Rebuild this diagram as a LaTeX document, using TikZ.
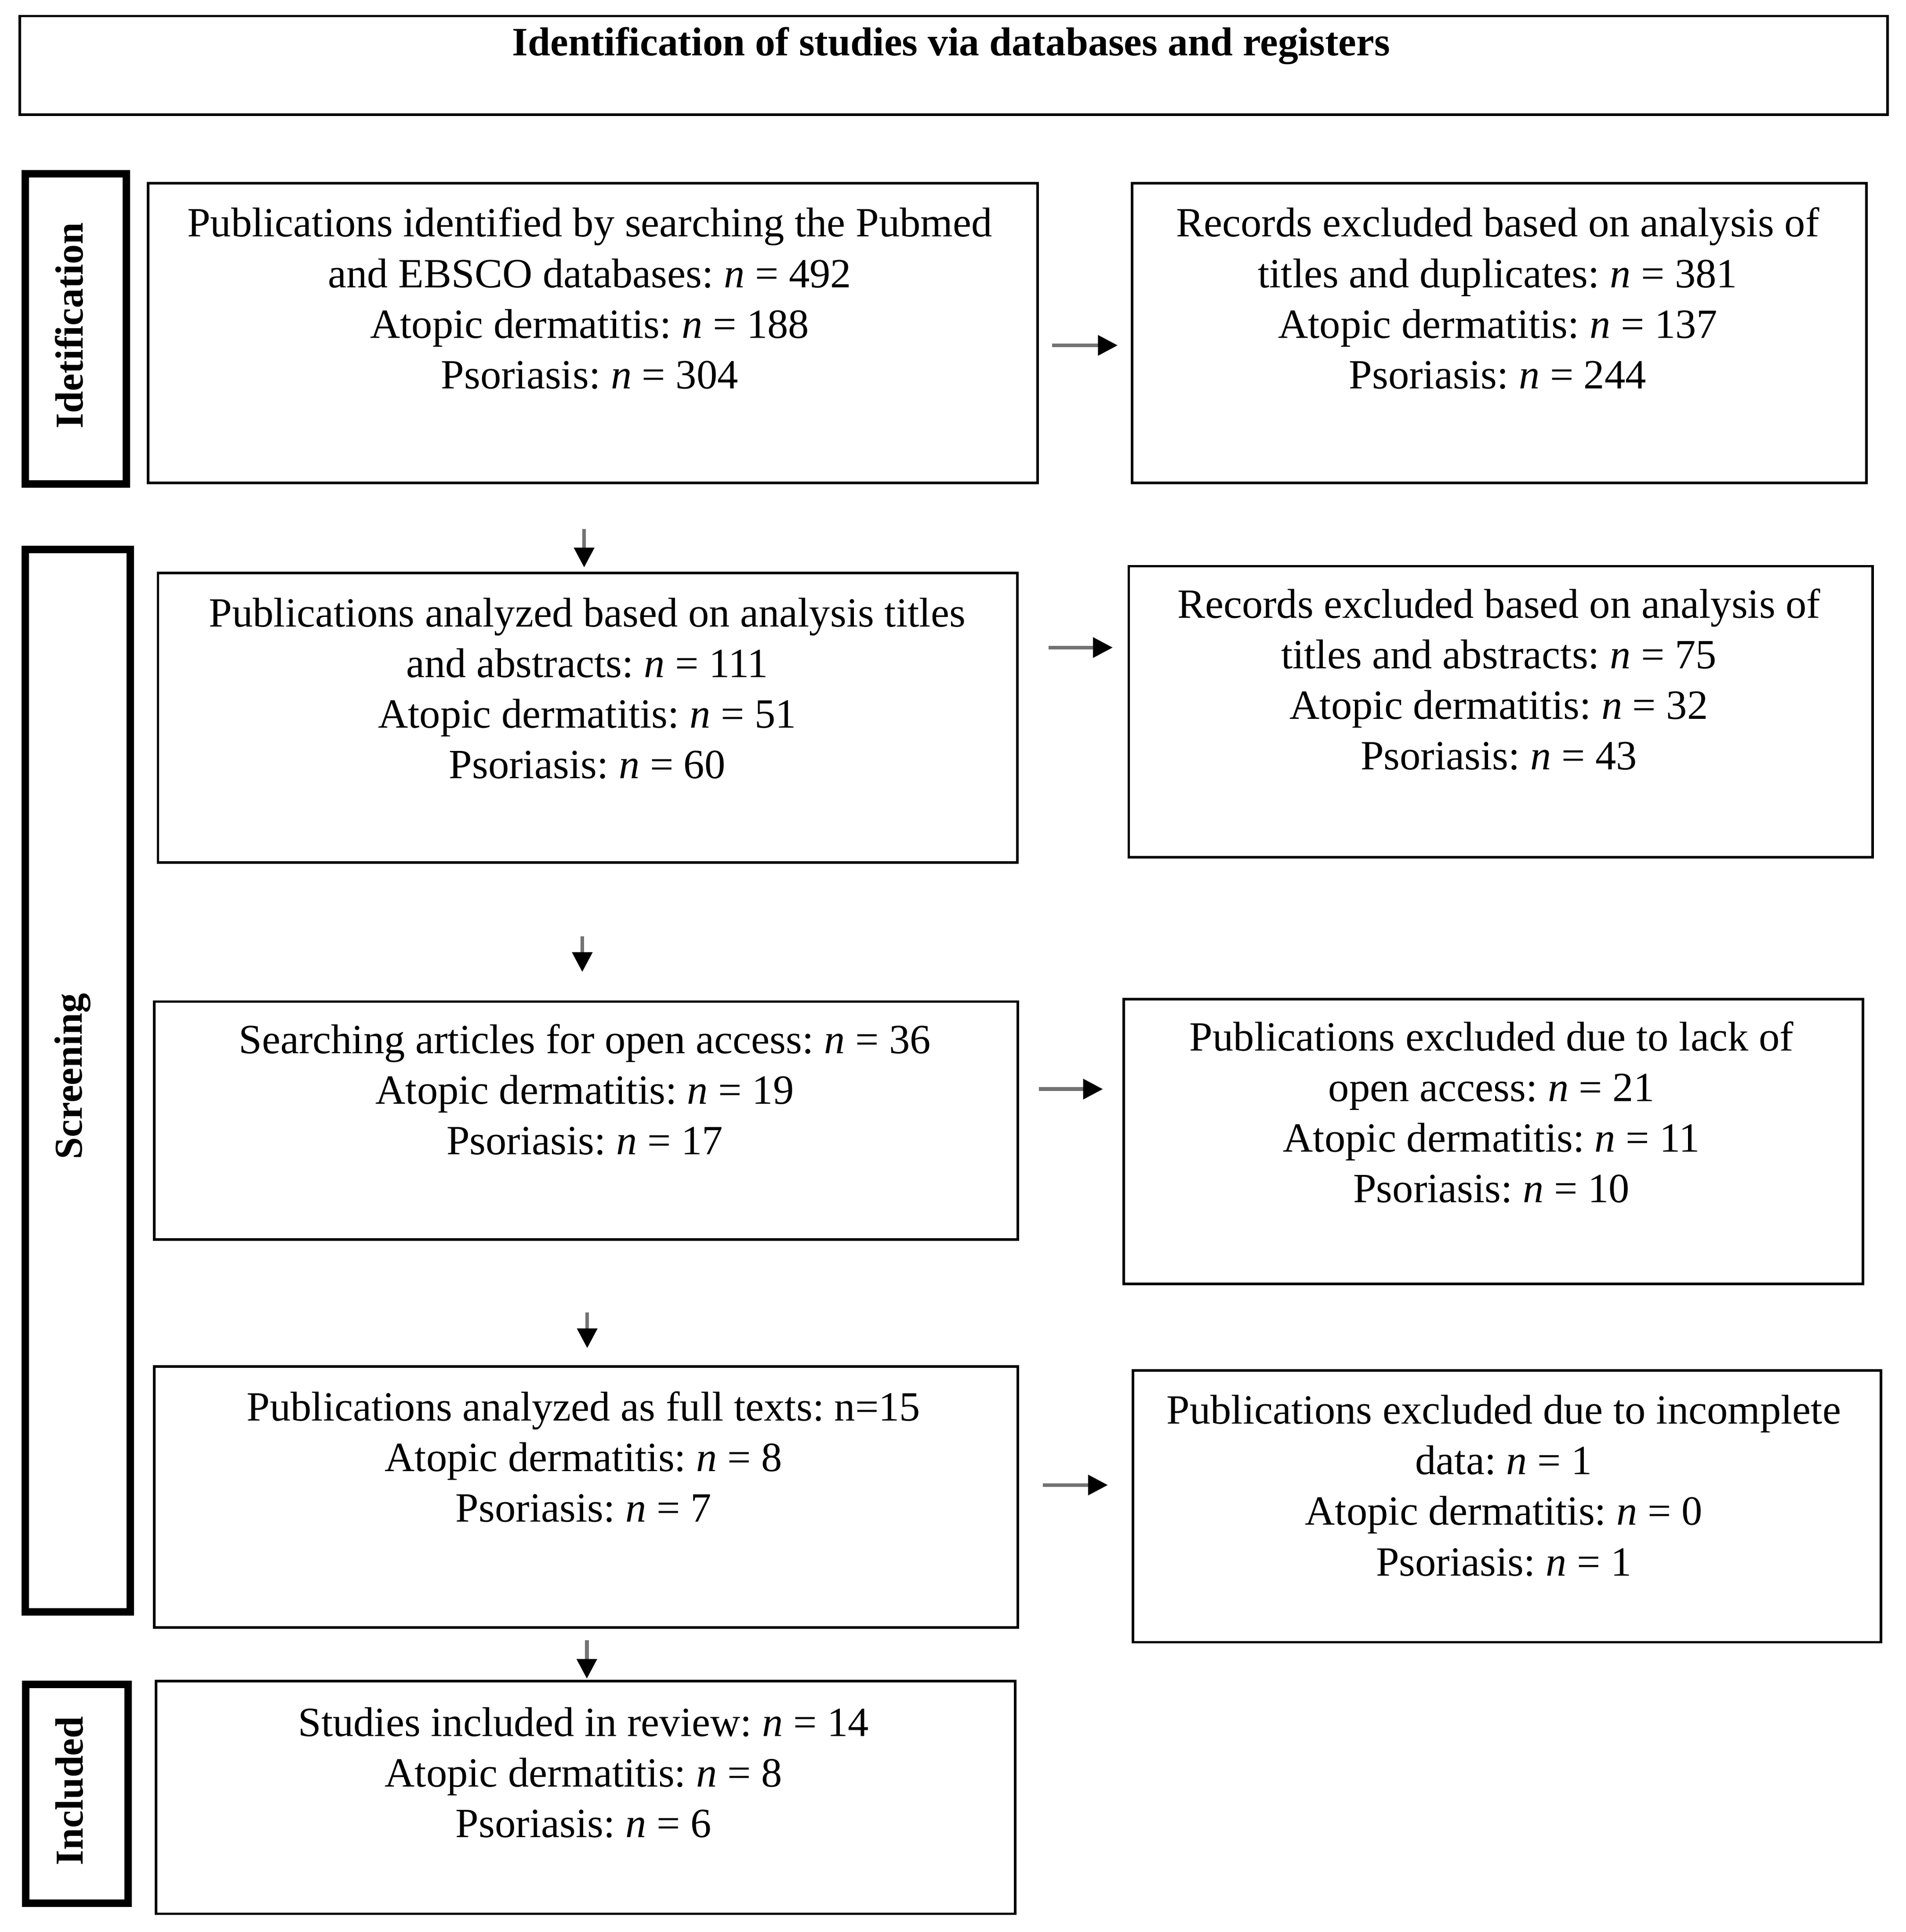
\documentclass[tikz,border=0pt]{standalone}
\usepackage{fontspec}
\setmainfont{Liberation Serif}
\usetikzlibrary{arrows.meta,calc}
\frenchspacing
\begin{document}
\begin{tikzpicture}[x=1pt,y=-1pt,
  box/.style={draw=black, line width=2pt, rectangle, inner sep=0pt, anchor=north west},
  stagebox/.style={draw=black, line width=6pt, rectangle, inner sep=0pt, anchor=north west},
  txt/.style={inner sep=0pt, align=center, font=\fontsize{33.7}{41}\selectfont, anchor=base},
  titletxt/.style={inner sep=0pt, font=\bfseries\fontsize{32.7}{38}\selectfont, anchor=base},
  stagetxt/.style={inner sep=0pt, font=\bfseries\fontsize{32}{38}\selectfont, rotate=90, anchor=base},
  arr/.style={draw=black!55, line width=3pt, -{Triangle[length=16pt,width=16pt,color=black]}},
]
\useasboundingbox (0,0) rectangle (1545,1566.4);

% title
\node[box, minimum width=1514pt, minimum height=80pt] (T) at (15,12) {};
\node[titletxt] (Tt) at (771,45) {Identification of studies via databases and registers};

% stage boxes
\node[stagebox, minimum width=82pt, minimum height=251.5pt] (S1) at (17.4,138) {};
\node[stagebox, minimum width=85pt, minimum height=861.6pt] (S2) at (17.5,442.4) {};
\node[stagebox, minimum width=83pt, minimum height=177.3pt] (S3) at (17.7,1362.7) {};
\node[stagetxt] (S1t) at (67,264) {Idetification};
\node[stagetxt] (S2t) at (66.5,872.5) {Screening};
\node[stagetxt] (S3t) at (67,1452) {Included};

% main boxes
\node[box, minimum width=721pt, minimum height=243pt] (B1) at (119,147.5) {};
\node[box, minimum width=595.4pt, minimum height=243pt] (R1) at (916.6,147.5) {};
\node[box, minimum width=696.7pt, minimum height=234.8pt] (B2) at (127,463.6) {};
\node[box, minimum width=603pt, minimum height=236pt] (R2) at (914,458) {};
\node[box, minimum width=700pt, minimum height=193pt] (B3) at (124,811) {};
\node[box, minimum width=599pt, minimum height=231pt] (R3) at (910,809) {};
\node[box, minimum width=700pt, minimum height=211.5pt] (B4) at (124,1107) {};
\node[box, minimum width=606.2pt, minimum height=220.4pt] (R4) at (917.4,1110) {};
\node[box, minimum width=696.5pt, minimum height=188.6pt] (B5) at (125.5,1362) {};

% texts (anchor = baseline of the last line)
\node[txt] (B1t) at (478,315) {Publications identified by searching the Pubmed\\and EBSCO databases: \textit{n} = 492\\Atopic dermatitis: \textit{n} = 188\\Psoriasis: \textit{n} = 304};
\node[txt] (R1t) at (1214,315) {Records excluded based on analysis of\\titles and duplicates: \textit{n} = 381\\Atopic dermatitis: \textit{n} = 137\\Psoriasis: \textit{n} = 244};
\node[txt] (B2t) at (476,631) {Publications analyzed based on analysis titles\\and abstracts: \textit{n} = 111\\Atopic dermatitis: \textit{n} = 51\\Psoriasis: \textit{n} = 60};
\node[txt] (R2t) at (1215,624) {Records excluded based on analysis of\\titles and abstracts: \textit{n} = 75\\Atopic dermatitis: \textit{n} = 32\\Psoriasis: \textit{n} = 43};
\node[txt] (B3t) at (474,936) {Searching articles for open access: \textit{n} = 36\\Atopic dermatitis: \textit{n} = 19\\Psoriasis: \textit{n} = 17};
\node[txt] (R3t) at (1209,975) {Publications excluded due to lack of\\open access: \textit{n} = 21\\Atopic dermatitis: \textit{n} = 11\\Psoriasis: \textit{n} = 10};
\node[txt] (B4t) at (473,1234) {Publications analyzed as full texts: n=15\\Atopic dermatitis: \textit{n} = 8\\Psoriasis: \textit{n} = 7};
\node[txt] (R4t) at (1219,1277.5) {Publications excluded due to incomplete\\data: \textit{n} = 1\\Atopic dermatitis: \textit{n} = 0\\Psoriasis: \textit{n} = 1};
\node[txt] (B5t) at (473,1489.5) {Studies included in review: \textit{n} = 14\\Atopic dermatitis: \textit{n} = 8\\Psoriasis: \textit{n} = 6};

% horizontal arrows
\draw[arr] ($(B1.east)+(11,10)$) -- ($(R1.west)+(-10.6,10)$);
\draw[arr] ($(B2.east)+(24.3,-57)$) -- ($(R2.west)+(-12,-52)$);
\draw[arr] ($(B3.east)+(16,-25.5)$) -- ($(R3.west)+(-16,-42.5)$);
\draw[arr] ($(B4.east)+(19.5,-9.75)$) -- ($(R4.west)+(-19.4,-17.2)$);

% vertical arrows
\coordinate (v1) at ($(B1.south)+(-7,36.5)$);
\coordinate (v2) at ($(B2.south)+(-4.35,58.6)$);
\coordinate (v3) at ($(B3.south)+(1,58)$);
\coordinate (v4) at ($(B4.south)+(0.7,9.2)$);
\draw[arr, shorten >=3.6pt] (v1) -- (v1 |- B2.north);
\draw[arr, shorten >=23pt] (v2) -- (v2 |- B3.north);
\draw[arr, shorten >=14pt] (v3) -- (v3 |- B4.north);
\draw[arr, shorten >=1pt] (v4) -- (v4 |- B5.north);
\end{tikzpicture}
\end{document}
